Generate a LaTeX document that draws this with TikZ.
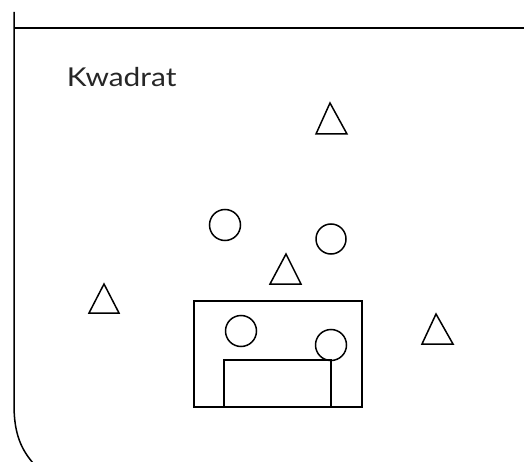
\documentclass[tikz,border=0pt]{standalone}
\usepackage{fontspec}
\setmainfont{Lato}
\begin{document}
\begin{tikzpicture}[x=1pt,y=-1pt,line width=1.5pt,
  outline/.style={draw=black,line join=miter},
  tri/.style={outline}]
\useasboundingbox (0,0) rectangle (524,462);
% frame lines
\draw[outline] (14,12) -- (14,405) .. controls (14,435) and (22,450) .. (33,463);
\draw[outline] (14,28) -- (524,28);
% label
\node[anchor=base west,inner sep=0pt,xscale=1.15,font=\fontsize{26}{30}\selectfont,text=black!85] (label) at (66,87) {Kwadrat};
% triangles
\draw[tri] (330,103) -- (347,134) -- (316,134) -- cycle;
\draw[tri] (286,254) -- (301,284) -- (270,284) -- cycle;
\draw[tri] (436,314) -- (453,344) -- (422,344) -- cycle;
\draw[tri] (104,284) -- (119,313) -- (89,313) -- cycle;
% circles
\draw[outline] (225,225) circle (15.5);
\draw[outline] (331,239) circle (15);
% rectangles
\draw[outline] (194,301) rectangle (362,407);
\draw[outline] (224,360) rectangle (331,407);
\draw[outline] (241,331) circle (15.5);
\draw[outline] (331,345) circle (15.5);
\end{tikzpicture}
\end{document}
